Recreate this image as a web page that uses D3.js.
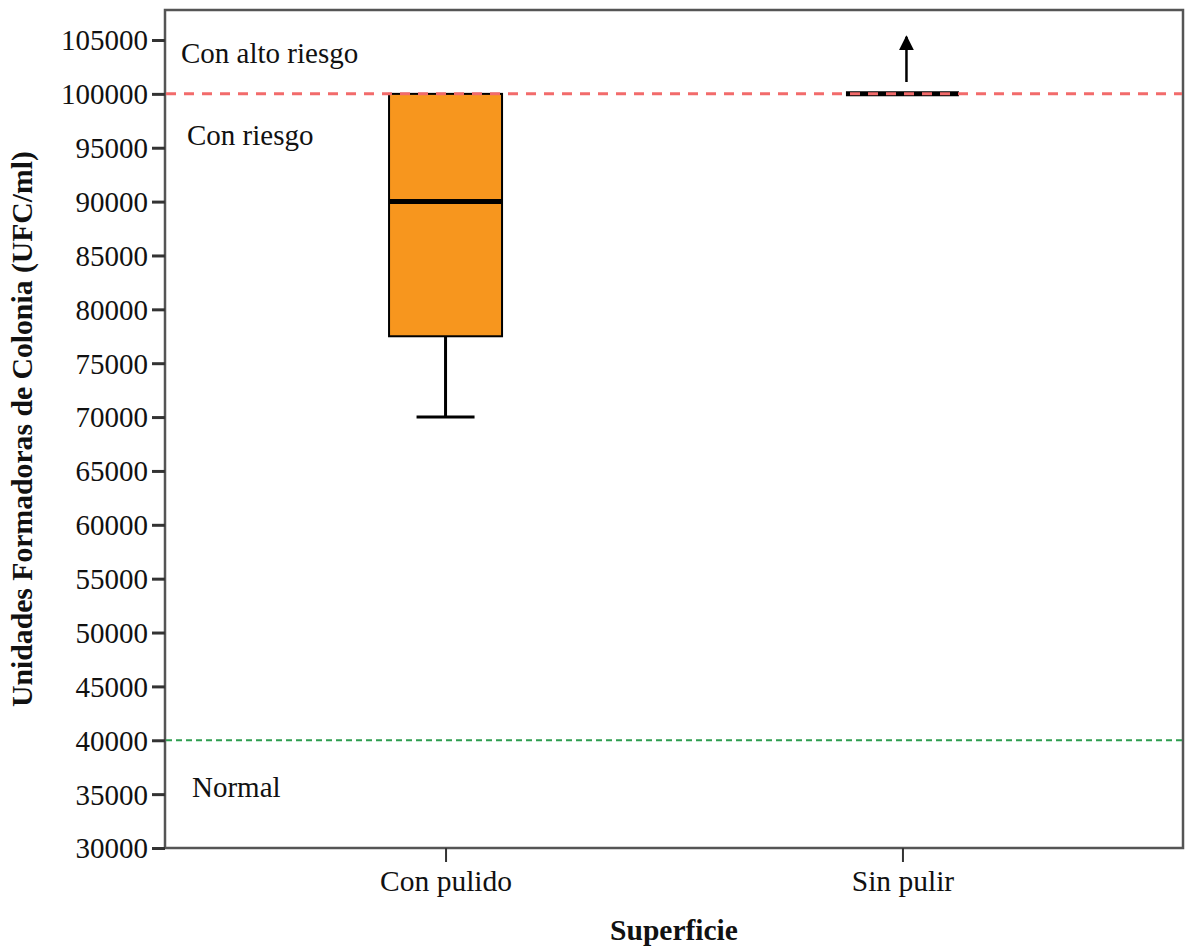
<!DOCTYPE html>
<html>
<head>
<meta charset="utf-8">
<script src="https://cdn.jsdelivr.net/npm/d3@7"></script>
<style>
  body { margin: 0; background: #fff; }
  svg text { font-family: "Liberation Serif", "Times New Roman", serif; fill: #111; }
</style>
</head>
<body>
<svg width="1185" height="947"></svg>
<script>
// data
var categories = ["Con pulido", "Sin pulir"];
var mins    = [70000, 100000];
var q1s     = [77500, 100000];
var medians = [90000, 100000];
var q3s     = [100000, 100000];
var maxs    = [100000, 100000];
var yTicks  = d3.range(30000, 105001, 5000);

var limits = [
  {value: 100000, color: "#f26b6b", dash: "10,8", width: 3},
  {value: 40000,  color: "#2e9e4f", dash: "6,4",  width: 2}
];
var zones = [
  {label: "Con alto riesgo", value: 103800, x: 181},
  {label: "Con riesgo",      value: 96200,  x: 187},
  {label: "Normal",          value: 35650,  x: 192}
];
// arrow above "Sin pulir": values exceed the scale
var arrowCat = "Sin pulir", arrowFrom = 101100, arrowTo = 105300;

var svg = d3.select("svg"),
    pLeft = 165, pRight = 1183, pTop = 10, pBottom = 848;
var serif = "'Liberation Serif', 'Times New Roman', serif";

var y = d3.scaleLinear().domain([30000, 107785]).range([pBottom, pTop]);
var x = d3.scalePoint().domain(categories).range([pLeft, pRight]).padding(0.614);
var boxW = 113, capW = 58;

var boxes = categories.map(function(c, i) {
  return {cat: c, min: mins[i], q1: q1s[i], med: medians[i], q3: q3s[i], max: maxs[i]};
});

// frame
svg.append("rect")
    .attr("x", pLeft).attr("y", pTop)
    .attr("width", pRight - pLeft).attr("height", pBottom - pTop)
    .attr("fill", "none").attr("stroke", "#555").attr("stroke-width", 2.5);

// y axis
var yAxis = svg.append("g")
    .attr("transform", "translate(" + pLeft + ",0)")
    .call(d3.axisLeft(y).tickValues(yTicks).tickSize(13).tickPadding(4).tickFormat(d3.format("d")));
yAxis.attr("font-family", serif);
yAxis.select(".domain").remove();
yAxis.selectAll("line").attr("stroke", "#333").attr("stroke-width", 3);
yAxis.selectAll("text").style("font-size", "29px").style("font-family", serif).attr("dy", "0.34em");

// x axis
var xAxis = svg.append("g")
    .attr("transform", "translate(0," + pBottom + ")")
    .call(d3.axisBottom(x).tickSize(14).tickPadding(8));
xAxis.attr("font-family", serif);
xAxis.select(".domain").remove();
xAxis.selectAll("line").attr("stroke", "#333").attr("stroke-width", 2);
xAxis.selectAll("text").style("font-size", "29.5px").style("font-family", serif);

// whiskers
var g = svg.append("g");
g.selectAll(".whisker").data(boxes).enter().append("line")
    .attr("x1", function(d) { return x(d.cat); })
    .attr("x2", function(d) { return x(d.cat); })
    .attr("y1", function(d) { return y(d.q1); })
    .attr("y2", function(d) { return y(d.min); })
    .attr("stroke", "#000").attr("stroke-width", 3);
g.selectAll(".capLow").data(boxes.filter(function(d) { return d.min < d.q1; })).enter().append("line")
    .attr("x1", function(d) { return x(d.cat) - capW / 2; })
    .attr("x2", function(d) { return x(d.cat) + capW / 2; })
    .attr("y1", function(d) { return y(d.min); })
    .attr("y2", function(d) { return y(d.min); })
    .attr("stroke", "#000").attr("stroke-width", 3);

// boxes
g.selectAll(".box").data(boxes).enter().append("rect")
    .attr("x", function(d) { return x(d.cat) - boxW / 2; })
    .attr("width", boxW)
    .attr("y", function(d) { return y(d.q3); })
    .attr("height", function(d) { return y(d.q1) - y(d.q3); })
    .attr("fill", "#f7961e").attr("stroke", "#000").attr("stroke-width", 2);

// medians
g.selectAll(".median").data(boxes).enter().append("line")
    .attr("x1", function(d) { return x(d.cat) - boxW / 2; })
    .attr("x2", function(d) { return x(d.cat) + boxW / 2; })
    .attr("y1", function(d) { return y(d.med); })
    .attr("y2", function(d) { return y(d.med); })
    .attr("stroke", "#000").attr("stroke-width", 5);

// reference lines on top
svg.selectAll(".limit").data(limits).enter().append("line")
    .attr("x1", pLeft + 1).attr("x2", pRight - 1)
    .attr("y1", function(d) { return y(d.value); })
    .attr("y2", function(d) { return y(d.value); })
    .attr("stroke", function(d) { return d.color; })
    .attr("stroke-width", function(d) { return d.width; })
    .attr("stroke-dasharray", function(d) { return d.dash; });

// zone labels
svg.selectAll(".zone").data(zones).enter().append("text")
    .attr("x", function(d) { return d.x; })
    .attr("y", function(d) { return y(d.value); })
    .attr("dy", "0.34em")
    .style("font-family", serif)
    .style("font-size", "29px")
    .text(function(d) { return d.label; });

// arrow
svg.append("defs").append("marker")
    .attr("id", "head")
    .attr("viewBox", "0 0 10 10")
    .attr("refX", 9).attr("refY", 5)
    .attr("markerWidth", 6).attr("markerHeight", 6)
    .attr("markerUnits", "strokeWidth")
    .attr("orient", "auto")
  .append("path")
    .attr("d", "M0,0L10,5L0,10Z")
    .attr("fill", "#000");
svg.append("line")
    .attr("x1", x(arrowCat) + 4).attr("x2", x(arrowCat) + 4)
    .attr("y1", y(arrowFrom)).attr("y2", y(arrowTo))
    .attr("stroke", "#000").attr("stroke-width", 2.5)
    .attr("marker-end", "url(#head)");

// axis titles
svg.append("text")
    .attr("transform", "translate(32," + ((pTop + pBottom) / 2) + ") rotate(-90)")
    .attr("text-anchor", "middle")
    .style("font-family", serif)
    .style("font-size", "29.7px").style("font-weight", "bold")
    .text("Unidades Formadoras de Colonia (UFC/ml)");
svg.append("text")
    .attr("x", (pLeft + pRight) / 2).attr("y", 940)
    .attr("text-anchor", "middle")
    .style("font-family", serif)
    .style("font-size", "29.5px").style("font-weight", "bold")
    .text("Superficie");
</script>
</body>
</html>
